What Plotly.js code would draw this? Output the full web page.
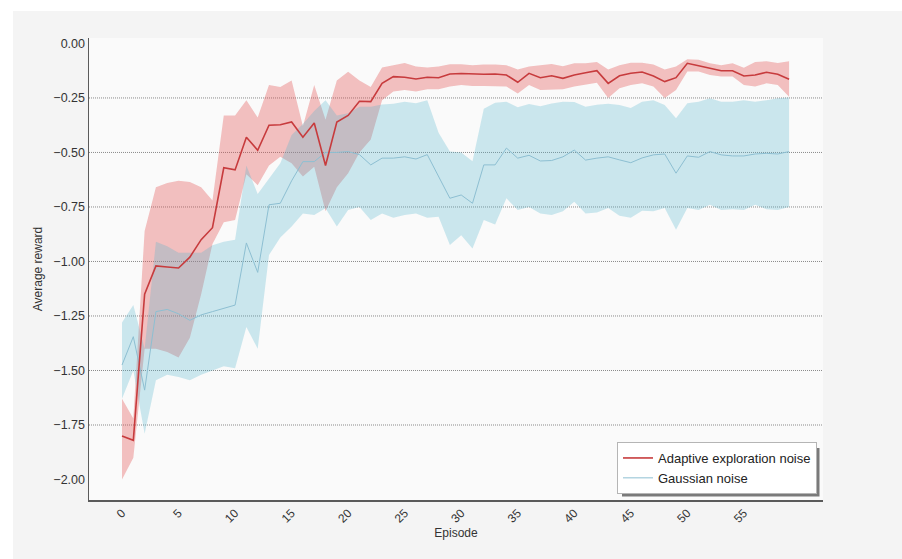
<!DOCTYPE html>
<html>
<head>
<meta charset="utf-8">
<script src="https://cdn.plot.ly/plotly-3.0.1.min.js"></script>
<style>html,body{margin:0;padding:0;background:#f4f4f4;}#chart{width:902px;height:559px;}</style>
</head>
<body>
<div id="chart"></div>
<script>
// Episodes 0..59
const episodes = Array.from({length: 60}, (_, i) => i);

// Adaptive exploration noise (red)
const adaptiveMean = [-1.80,-1.82,-1.15,-1.02,-1.025,-1.03,-0.98,-0.90,-0.845,-0.57,
  -0.58,-0.43,-0.49,-0.375,-0.373,-0.36,-0.43,-0.365,-0.56,-0.36,
  -0.33,-0.265,-0.267,-0.183,-0.152,-0.155,-0.163,-0.155,-0.157,-0.14,
  -0.138,-0.141,-0.141,-0.14,-0.145,-0.178,-0.137,-0.157,-0.148,-0.16,
  -0.145,-0.134,-0.125,-0.183,-0.148,-0.137,-0.131,-0.149,-0.175,-0.157,
  -0.091,-0.102,-0.114,-0.125,-0.125,-0.149,-0.145,-0.132,-0.141,-0.164];
const adaptiveUpper = [-1.63,-1.72,-0.86,-0.66,-0.64,-0.63,-0.635,-0.66,-0.72,-0.33,
  -0.33,-0.26,-0.34,-0.19,-0.20,-0.17,-0.38,-0.19,-0.35,-0.17,
  -0.13,-0.17,-0.20,-0.11,-0.10,-0.09,-0.106,-0.11,-0.106,-0.095,
  -0.095,-0.10,-0.096,-0.096,-0.10,-0.12,-0.106,-0.10,-0.094,-0.104,
  -0.091,-0.091,-0.085,-0.12,-0.10,-0.088,-0.088,-0.096,-0.12,-0.106,
  -0.072,-0.075,-0.091,-0.10,-0.091,-0.112,-0.085,-0.082,-0.09,-0.082];
const adaptiveLower = [-2.00,-1.90,-1.40,-1.40,-1.415,-1.44,-1.35,-1.15,-0.92,-0.82,
  -0.81,-0.60,-0.65,-0.56,-0.52,-0.55,-0.61,-0.565,-0.77,-0.66,
  -0.595,-0.50,-0.44,-0.26,-0.22,-0.213,-0.22,-0.21,-0.21,-0.198,
  -0.19,-0.195,-0.195,-0.195,-0.198,-0.23,-0.19,-0.213,-0.21,-0.21,
  -0.198,-0.19,-0.18,-0.25,-0.205,-0.19,-0.183,-0.198,-0.25,-0.213,
  -0.129,-0.129,-0.145,-0.152,-0.152,-0.19,-0.198,-0.183,-0.19,-0.245];

// Gaussian noise (blue)
const gaussianMean = [-1.475,-1.345,-1.59,-1.23,-1.22,-1.24,-1.27,-1.245,-1.23,-1.215,
  -1.20,-0.915,-1.05,-0.74,-0.733,-0.63,-0.542,-0.542,-0.50,-0.50,
  -0.496,-0.51,-0.557,-0.526,-0.526,-0.52,-0.53,-0.51,-0.61,-0.71,
  -0.695,-0.733,-0.557,-0.557,-0.48,-0.526,-0.513,-0.539,-0.537,-0.52,
  -0.489,-0.535,-0.526,-0.52,-0.534,-0.547,-0.525,-0.511,-0.507,-0.595,
  -0.516,-0.522,-0.496,-0.511,-0.516,-0.516,-0.507,-0.504,-0.507,-0.496];
const gaussianUpper = [-1.28,-1.20,-1.40,-0.91,-0.93,-0.96,-0.96,-0.96,-0.925,-0.91,
  -0.90,-0.56,-0.69,-0.62,-0.55,-0.42,-0.37,-0.31,-0.26,-0.33,
  -0.32,-0.29,-0.29,-0.28,-0.277,-0.267,-0.274,-0.26,-0.41,-0.496,
  -0.50,-0.54,-0.30,-0.272,-0.267,-0.293,-0.278,-0.288,-0.275,-0.267,
  -0.268,-0.29,-0.281,-0.277,-0.282,-0.296,-0.267,-0.26,-0.282,-0.343,
  -0.274,-0.267,-0.251,-0.267,-0.267,-0.26,-0.267,-0.26,-0.251,-0.248];
const gaussianLower = [-1.63,-1.50,-1.79,-1.545,-1.52,-1.53,-1.545,-1.52,-1.50,-1.48,
  -1.49,-1.30,-1.40,-0.97,-0.89,-0.84,-0.78,-0.787,-0.756,-0.84,
  -0.764,-0.75,-0.81,-0.78,-0.80,-0.787,-0.78,-0.80,-0.795,-0.924,
  -0.88,-0.94,-0.81,-0.83,-0.71,-0.764,-0.75,-0.78,-0.787,-0.77,
  -0.726,-0.78,-0.775,-0.755,-0.79,-0.80,-0.767,-0.77,-0.755,-0.855,
  -0.755,-0.764,-0.74,-0.764,-0.76,-0.764,-0.74,-0.76,-0.764,-0.75];

const xTickVals = [0,5,10,15,20,25,30,35,40,45,50,55];
const yTickVals = [0,-0.25,-0.5,-0.75,-1.0,-1.25,-1.5,-1.75,-2.0];
const gridVals = [-0.25,-0.5,-0.75,-1.0,-1.25,-1.5,-1.75];

const seriesNames = ['Adaptive exploration noise', 'Gaussian noise'];

const redFill = 'rgba(226,80,80,0.35)';
const blueFill = 'rgba(80,180,205,0.28)';

const traces = [
  {x: episodes, y: adaptiveUpper, mode: 'lines', line: {width: 0, color: redFill}, showlegend: false, hoverinfo: 'skip'},
  {x: episodes, y: adaptiveLower, mode: 'lines', line: {width: 0, color: redFill}, fill: 'tonexty', fillcolor: redFill, showlegend: false, hoverinfo: 'skip'},
  {x: episodes, y: gaussianUpper, mode: 'lines', line: {width: 0, color: blueFill}, showlegend: false, hoverinfo: 'skip'},
  {x: episodes, y: gaussianLower, mode: 'lines', line: {width: 0, color: blueFill}, fill: 'tonexty', fillcolor: blueFill, showlegend: false, hoverinfo: 'skip'},
  {x: episodes, y: gaussianMean, mode: 'lines', name: seriesNames[1], line: {width: 1, color: '#8dbfd2'}, legendrank: 2},
  {x: episodes, y: adaptiveMean, mode: 'lines', name: seriesNames[0], line: {width: 1.6, color: '#c73b3d'}, legendrank: 1}
];

const L = 89, R = 823, T = 38, B = 500, W = 902, H = 559;
const pw = R - L, ph = B - T;
const px = v => (v - L) / pw;
const py = v => (B - v) / ph;

const shapes = gridVals.map(v => ({
  type: 'line', xref: 'paper', yref: 'y', x0: 0, x1: 1, y0: v, y1: v,
  line: {color: '#8a8a8a', width: 1, dash: '1px,1px'}, layer: 'below'
}));
// outer white border strips
shapes.push({type: 'rect', xref: 'paper', yref: 'paper', x0: px(0), x1: px(W), y0: py(11), y1: py(0), fillcolor: '#ffffff', line: {width: 0}, layer: 'below'});
shapes.push({type: 'rect', xref: 'paper', yref: 'paper', x0: px(0), x1: px(13), y0: py(H), y1: py(0), fillcolor: '#ffffff', line: {width: 0}, layer: 'below'});
// legend shadow
shapes.push({type: 'rect', xref: 'paper', yref: 'paper', x0: px(622), x1: px(819.5), y0: py(496.5), y1: py(448), fillcolor: '#7a7a7a', line: {width: 0}, layer: 'above'});

const font = {family: '"Liberation Sans", Arial, Helvetica, sans-serif', size: 12, color: '#333333'};

const layout = {
  width: W, height: H,
  margin: {l: L, r: W - R, t: T, b: H - B, pad: 0},
  paper_bgcolor: '#f4f4f4',
  plot_bgcolor: '#fafafa',
  font: font,
  showlegend: true,
  legend: {
    x: px(817), y: py(494), xanchor: 'right', yanchor: 'bottom',
    bgcolor: '#ffffff', bordercolor: '#b5b5b5', borderwidth: 1,
    font: {family: font.family, size: 13, color: '#222222'},
    traceorder: 'normal',
    tracegroupgap: 0, itemwidth: 30
  },
  xaxis: {
    range: [-2.92, 62.0],
    tickvals: xTickVals,
    tickangle: -45,
    showgrid: false, zeroline: false,
    showline: true, linecolor: '#5a5a5a', linewidth: 1.5,
    ticks: '',
    tickfont: {family: font.family, size: 12, color: '#333333'},
    title: {text: 'Episode', font: {family: font.family, size: 12, color: '#333333'}, standoff: 2}
  },
  yaxis: {
    range: [-2.094, 0.025],
    tickvals: yTickVals,
    tickformat: '.2f',
    showgrid: false, zeroline: false,
    showline: true, linecolor: '#5a5a5a', linewidth: 1.5,
    ticks: '',
    ticklabelstandoff: 0,
    tickfont: {family: font.family, size: 12.5, color: '#333333'},
    title: {text: 'Average reward', font: {family: font.family, size: 12, color: '#333333'}, standoff: 8}
  },
  shapes: shapes
};

Plotly.newPlot('chart', traces, layout, {displayModeBar: false, staticPlot: true});
</script>
</body>
</html>
